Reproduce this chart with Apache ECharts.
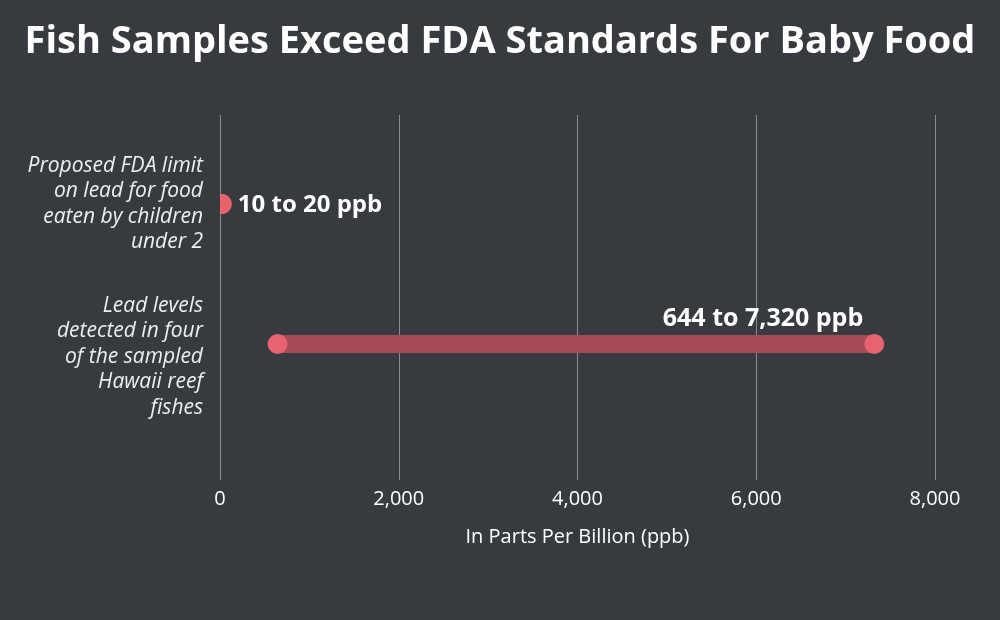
<!DOCTYPE html>
<html>
<head>
<meta charset="utf-8">
<title>Fish Samples Exceed FDA Standards For Baby Food</title>
<script src="https://cdn.jsdelivr.net/npm/echarts@6/dist/echarts.min.js"></script>
<style>
  html, body { margin: 0; padding: 0; background: #373b3f; }
  #chart { width: 1000px; height: 620px; }
</style>
</head>
<body>
<div id="chart"></div>
<script>
var categories = [
    'Proposed FDA limit\non lead for food\neaten by children\nunder 2',
    '\nLead levels\ndetected in four\nof the sampled\nHawaii reef\nfishes'
];
var lowValues = [10, 644];
var highValues = [20, 7320];
var rangeLabels = ['10 to 20 ppb', '644 to 7,320 ppb'];
var xTicks = [0, 2000, 4000, 6000, 8000];

var dotColor = '#e8636f';
var barColor = '#a64a58';
var font = '"Open Sans"';

var chart = echarts.init(document.getElementById('chart'));

// a dot, cut off where it crosses the left edge of the plot
function dot(cx, cy, r, left) {
    if (cx - r >= left) {
        return { type: 'circle', shape: { cx: cx, cy: cy, r: r }, style: { fill: dotColor } };
    }
    var t = Math.acos(Math.max(-1, Math.min(1, (left - cx) / r)));
    var pts = [];
    for (var k = 0; k <= 40; k++) {
        var ang = -t + (2 * t) * k / 40;
        pts.push([cx + r * Math.cos(ang), cy + r * Math.sin(ang)]);
    }
    return { type: 'polygon', shape: { points: pts }, style: { fill: dotColor } };
}

var option = {
    backgroundColor: '#373b3f',
    textStyle: { fontFamily: font },
    title: {
        text: 'Fish Samples Exceed FDA Standards For Baby Food',
        left: 'center',
        top: 18,
        textStyle: { color: '#ffffff', fontSize: 38, fontWeight: 'bold', fontFamily: font }
    },
    grid: [
        // data grid
        { left: 220, right: 65, top: 134, bottom: 206 },
        // grid that carries the visible x axis and gridlines
        { left: 220, right: 65, top: 115, bottom: 140 }
    ],
    xAxis: [
        { gridIndex: 0, type: 'value', min: 0, max: 8000, show: false },
        {
            gridIndex: 1, type: 'value', min: 0, max: 8000, interval: 2000,
            axisLine: { show: false },
            axisTick: { show: false },
            splitLine: { show: true, lineStyle: { color: '#8a8d90', width: 1 } },
            axisLabel: {
                color: '#ffffff', fontSize: 20, margin: 9,
                formatter: function (v) { return xTicks.indexOf(v) >= 0 ? v.toLocaleString('en-US') : ''; }
            },
            name: 'In Parts Per Billion (ppb)',
            nameLocation: 'middle',
            nameGap: 47,
            nameTextStyle: { color: '#ffffff', fontSize: 20 }
        }
    ],
    yAxis: [
        {
            gridIndex: 0, type: 'category', data: categories, inverse: true,
            axisLine: { show: false },
            axisTick: { show: false },
            splitLine: { show: false },
            axisLabel: {
                color: '#eeeeee', fontSize: 21, fontStyle: 'italic',
                lineHeight: 25.5, align: 'right', margin: 17
            }
        },
        { gridIndex: 1, type: 'value', show: false, min: 0, max: 1 }
    ],
    series: [
        {
            type: 'custom',
            xAxisIndex: 0, yAxisIndex: 0,
            data: categories.map(function (c, i) { return [lowValues[i], highValues[i], i]; }),
            renderItem: function (params, api) {
                var i = params.dataIndex;
                var left = api.coord([0, 0])[0];
                var a = api.coord([api.value(0), api.value(2)]);
                var b = api.coord([api.value(1), api.value(2)]);
                var h = 18, r = 10;
                var text = i === 0 ? {
                    type: 'text', x: b[0] + 16, y: b[1] + 1,
                    style: { text: rangeLabels[i], fill: '#ffffff', font: 'bold 24px ' + font, textAlign: 'left', textVerticalAlign: 'middle' }
                } : {
                    type: 'text', x: b[0] - 11, y: b[1] - 25,
                    style: { text: rangeLabels[i], fill: '#ffffff', font: 'bold 25px ' + font, textAlign: 'right', textVerticalAlign: 'middle' }
                };
                return {
                    type: 'group',
                    children: [
                        { type: 'rect', shape: { x: a[0], y: a[1] - h / 2, width: b[0] - a[0], height: h }, style: { fill: barColor } },
                        dot(a[0], a[1], r, left),
                        dot(b[0], b[1], r, left),
                        text
                    ]
                };
            }
        }
    ]
};

chart.setOption(option);
</script>
</body>
</html>
